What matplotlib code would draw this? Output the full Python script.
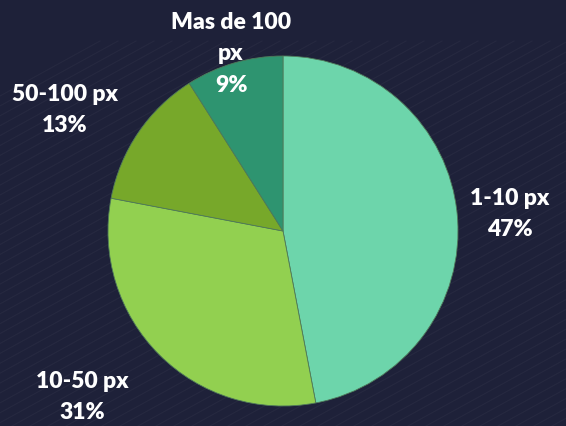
import numpy as np
import matplotlib
matplotlib.use("Agg")
import matplotlib.pyplot as plt

categories = ["1-10 px", "10-50 px", "50-100 px", "Mas de 100\npx"]
shares = [47, 31, 13, 9]
colors = ["#6dd5ab", "#92d050", "#77a82a", "#2e9470"]

# label anchor points in pixel space (x, y from top)
label_pos = [(510, 214), (82, 397), (65, 110), (231, 54)]

W, H = 566, 427
BG = "#1e2139"

fig = plt.figure(figsize=(W / 100, H / 100), dpi=100, facecolor=BG)
ax = fig.add_axes([0, 0, 1, 1])
ax.set_facecolor(BG)

# faint diagonal texture
for x0 in np.arange(-600, W + 50, 18):
    ax.plot([x0, x0 + 700], [0, 700 * 0.55], color="#ffffff", alpha=0.035, lw=0.8, zorder=0)

ax.pie(shares, colors=colors, startangle=90, counterclock=False,
       center=(283, H - 232), radius=175, frame=True,
       wedgeprops=dict(edgecolor="#4f7a5a", linewidth=0.6))
ax.set_xlim(0, W); ax.set_ylim(0, H)
ax.set_aspect("equal")
ax.axis("off")

for cat, val, (lx, ly) in zip(categories, shares, label_pos):
    ax.text(lx, H - ly, f"{cat}\n{val}%", ha="center", va="center",
            color="white", fontsize=16.5, fontweight="heavy", family="Lato",
            linespacing=1.6, zorder=5)

fig.savefig("out.png", dpi=100, facecolor=BG)
